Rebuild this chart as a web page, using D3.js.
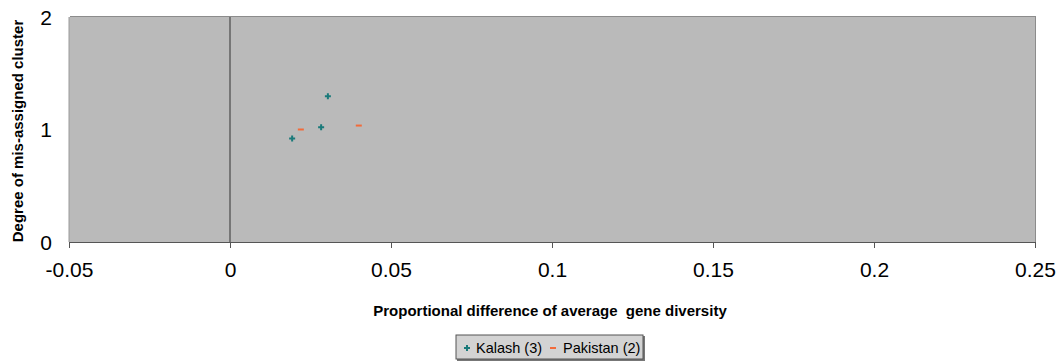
<!DOCTYPE html>
<html>
<head>
<meta charset="utf-8">
<script src="https://cdn.jsdelivr.net/npm/d3@7"></script>
<style>
  body { margin: 0; background: #fff; }
  text { font-family: "Liberation Sans", Arial, sans-serif; }
</style>
</head>
<body>
<div id="chart"></div>
<script>
const xTicks = [-0.05, 0, 0.05, 0.1, 0.15, 0.2, 0.25];
const yTicks = [0, 1, 2];
const kalashX = [0.0193, 0.0283, 0.0304];
const kalashY = [0.92, 1.02, 1.295];
const pakistanX = [0.022, 0.040];
const pakistanY = [1.0, 1.035];

const width = 1063, height = 361;
const margin = {top: 17, right: 28, bottom: 119, left: 69};

const svg = d3.select('#chart').append('svg')
  .attr('width', width).attr('height', height);

const x = d3.scaleLinear().domain([-0.05, 0.25]).range([margin.left, width - margin.right]);
const y = d3.scaleLinear().domain([0, 2]).range([height - margin.bottom, margin.top]);

// plot background with a small shadow edge
svg.append('rect')
  .attr('x', x(-0.05) + 1).attr('y', y(2) - 1)
  .attr('width', x(0.25) - x(-0.05)).attr('height', y(0) - y(2) + 1)
  .attr('fill', '#8c8c8c');
svg.append('rect')
  .attr('x', x(-0.05)).attr('y', y(2))
  .attr('width', x(0.25) - x(-0.05)).attr('height', y(0) - y(2))
  .attr('fill', '#bababa');

// y axis line
svg.append('line')
  .attr('x1', x(-0.05)).attr('x2', x(-0.05))
  .attr('y1', y(2)).attr('y2', y(0))
  .attr('stroke', '#9a9a9a');

// x axis at y = 0
const xAxis = svg.append('g')
  .attr('transform', `translate(0,${y(0)})`)
  .call(d3.axisBottom(x).tickValues(xTicks).tickSize(6).tickFormat(d => String(+d.toFixed(2))));
xAxis.select('.domain').attr('stroke', '#555');
xAxis.selectAll('.tick line').attr('stroke', '#555');
xAxis.selectAll('.tick text')
  .attr('fill', '#000').attr('font-size', 21).attr('dy', '1.25em')
  .attr('font-family', '"Liberation Sans", Arial, sans-serif');

// vertical line at x = 0
svg.append('line')
  .attr('x1', x(0)).attr('x2', x(0))
  .attr('y1', y(2)).attr('y2', y(0))
  .attr('stroke', '#333');

// y tick labels
svg.selectAll('.ylab').data(yTicks).enter().append('text')
  .attr('class', 'ylab')
  .attr('x', 52).attr('y', d => y(d))
  .attr('dy', '0.36em')
  .attr('text-anchor', 'end')
  .attr('font-size', 21)
  .text(d => d);

// axis titles
svg.append('text')
  .attr('x', 550).attr('y', 316)
  .attr('text-anchor', 'middle')
  .attr('font-size', 15).attr('font-weight', 'bold')
  .style('white-space', 'pre')
  .text('Proportional difference of average  gene diversity');

svg.append('text')
  .attr('transform', `translate(23,${131}) rotate(-90)`)
  .attr('text-anchor', 'middle')
  .attr('font-size', 15).attr('font-weight', 'bold')
  .text('Degree of mis-assigned cluster');

// Kalash: teal plus markers
const kalash = kalashX.map((v, i) => ({x: v, y: kalashY[i]}));
const pak = pakistanX.map((v, i) => ({x: v, y: pakistanY[i]}));

svg.selectAll('.kal').data(kalash).enter().append('path')
  .attr('class', 'kal')
  .attr('transform', d => `translate(${x(d.x)},${y(d.y)})`)
  .attr('d', 'M-3,0H3M0,-3V3')
  .attr('stroke', '#1a7a7a').attr('stroke-width', 2);

svg.selectAll('.pak').data(pak).enter().append('path')
  .attr('class', 'pak')
  .attr('transform', d => `translate(${x(d.x)},${y(d.y)})`)
  .attr('d', 'M-3,0H3')
  .attr('stroke', '#f26b3a').attr('stroke-width', 2);

// legend
const lg = svg.append('g').attr('transform', 'translate(456,335)');
lg.append('rect').attr('x', 1).attr('y', 1).attr('width', 188).attr('height', 25).attr('fill', '#777');
lg.append('rect').attr('width', 187).attr('height', 24)
  .attr('fill', '#d3d3d3').attr('stroke', '#555');
lg.append('path').attr('d', 'M8,13H14M11,10V16').attr('stroke', '#1a7a7a').attr('stroke-width', 2);
lg.append('text').attr('x', 20).attr('y', 18).attr('font-size', 14.5).text('Kalash (3)');
lg.append('path').attr('d', 'M94,13H100').attr('stroke', '#f26b3a').attr('stroke-width', 2);
lg.append('text').attr('x', 107).attr('y', 18).attr('font-size', 14.5).text('Pakistan (2)');
</script>
</body>
</html>
